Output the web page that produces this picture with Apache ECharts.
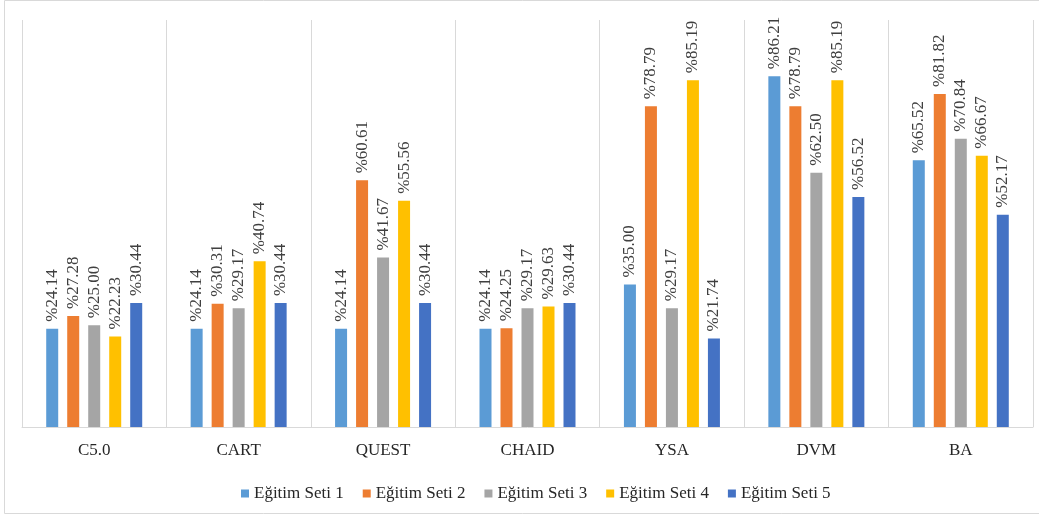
<!DOCTYPE html>
<html>
<head>
<meta charset="utf-8">
<script src="https://cdn.jsdelivr.net/npm/echarts@6/dist/echarts.min.js"></script>
<style>
  html, body { margin: 0; padding: 0; background: #ffffff; }
  #chart { width: 1039px; height: 515px; }
</style>
</head>
<body>
<div id="chart"></div>
<script>
// Model names on the category axis
const categories = ['C5.0', 'CART', 'QUEST', 'CHAID', 'YSA', 'DVM', 'BA'];

// Accuracy (%) per training set
const seriesNames = ['Eğitim Seti 1', 'Eğitim Seti 2', 'Eğitim Seti 3', 'Eğitim Seti 4', 'Eğitim Seti 5'];
const set1 = [24.14, 24.14, 24.14, 24.14, 35.00, 86.21, 65.52];
const set2 = [27.28, 30.31, 60.61, 24.25, 78.79, 78.79, 81.82];
const set3 = [25.00, 29.17, 41.67, 29.17, 29.17, 62.50, 70.84];
const set4 = [22.23, 40.74, 55.56, 29.63, 85.19, 85.19, 66.67];
const set5 = [30.44, 30.44, 30.44, 30.44, 21.74, 56.52, 52.17];
const colors = ['#5B9BD5', '#ED7D31', '#A5A5A5', '#FFC000', '#4472C4'];

const values = [set1, set2, set3, set4, set5];
const serif = '"Liberation Serif", "Times New Roman", serif';

const chart = echarts.init(document.getElementById('chart'), null, { renderer: 'canvas' });

chart.setOption({
  animation: false,
  color: colors,
  graphic: [{
    type: 'rect',
    shape: { x: 4.5, y: 0.5, width: 1040, height: 513 },
    style: { fill: 'none', stroke: '#d9d9d9', lineWidth: 1 },
    silent: true,
    z: -10
  }],
  grid: { left: 22, right: 6, top: 20, bottom: 88, containLabel: false },
  legend: {
    data: seriesNames,
    top: 480,
    left: 236,
    itemWidth: 8,
    itemHeight: 8,
    itemGap: 19,
    icon: 'rect',
    textStyle: { fontFamily: serif, fontSize: 17, color: '#262626' }
  },
  xAxis: {
    type: 'category',
    data: categories,
    axisLine: { lineStyle: { color: '#d9d9d9', width: 1 } },
    axisTick: { show: false },
    splitLine: { show: true, lineStyle: { color: '#d9d9d9', width: 1 } },
    axisLabel: { fontFamily: serif, fontSize: 17, color: '#262626', margin: 15 }
  },
  yAxis: {
    type: 'value',
    min: 0,
    max: 100,
    show: false,
    splitLine: { show: false }
  },
  series: seriesNames.map((name, i) => ({
    name: name,
    type: 'bar',
    data: values[i],
    barWidth: 12,
    barGap: '75%',
    itemStyle: { color: colors[i] },
    label: {
      show: true,
      position: 'top',
      rotate: 90,
      align: 'left',
      verticalAlign: 'middle',
      distance: 7,
      fontFamily: serif,
      fontSize: 17,
      color: '#404040',
      formatter: p => '%' + p.value.toFixed(2)
    }
  }))
});
</script>
</body>
</html>
